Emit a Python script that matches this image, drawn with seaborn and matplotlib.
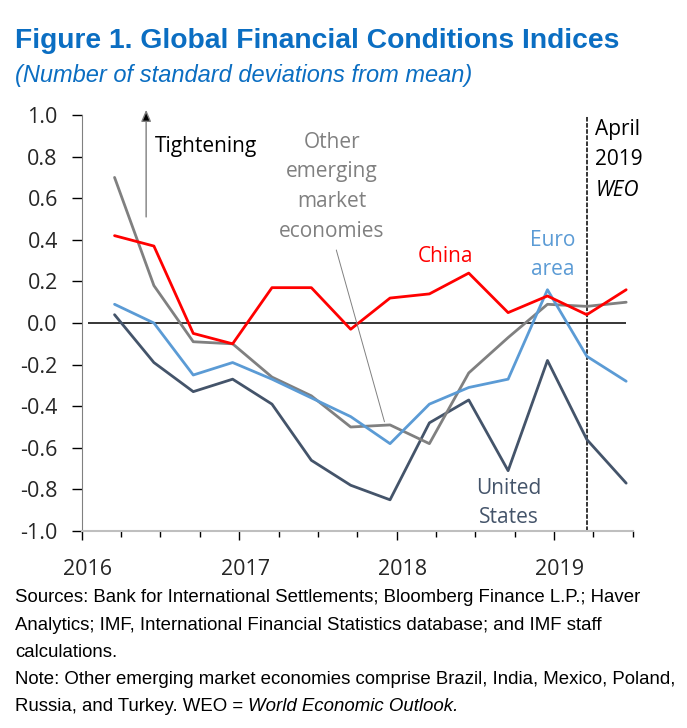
import matplotlib
matplotlib.use("Agg")
import matplotlib.pyplot as plt # type: ignore
import matplotlib.transforms as mtransforms # type: ignore
from matplotlib import font_manager # type: ignore
from matplotlib.ticker import FixedLocator # type: ignore
import seaborn as sns # type: ignore
import pandas as pd # type: ignore

quarters = ["2016Q1", "2016Q2", "2016Q3", "2016Q4", "2017Q1", "2017Q2", "2017Q3",
            "2017Q4", "2018Q1", "2018Q2", "2018Q3", "2018Q4", "2019Q1", "2019Q2"]
china = [0.42, 0.37, -0.05, -0.10, 0.17, 0.17, -0.03, 0.12, 0.14, 0.24, 0.05, 0.13, 0.04, 0.16]
other_em = [0.70, 0.18, -0.09, -0.10, -0.26, -0.35, -0.50, -0.49, -0.58, -0.24, -0.07, 0.09, 0.08, 0.10]
euro_area = [0.09, 0.00, -0.25, -0.19, -0.27, -0.36, -0.45, -0.58, -0.39, -0.31, -0.27, 0.16, -0.16, -0.28]
united_states = [0.04, -0.19, -0.33, -0.27, -0.39, -0.66, -0.78, -0.85, -0.48, -0.37, -0.71, -0.18, -0.56, -0.77]
year_labels = ["2016", "2017", "2018", "2019"]

# quarter -> position of the last month of the quarter (month centre, in years)
pos = [int(q[:4]) + (3 * int(q[-1]) - 0.5) / 12 for q in quarters]
df = pd.DataFrame({"date": pos, "China": china, "Other EM": other_em,
                   "Euro area": euro_area, "United States": united_states})

sns.set_style("ticks")
names = {f.name for f in font_manager.fontManager.ttflist}
narrow = "Liberation Sans Narrow" if "Liberation Sans Narrow" in names else "Liberation Sans"
body = ["Open Sans", "DejaVu Sans"]
plt.rcParams["font.family"] = body

fig = plt.figure(figsize=(6.87, 7.28), dpi=100)
ax = fig.add_axes([0.119, 0.2706, 0.802, 0.5714])

colors = {"United States": "#44546A", "Other EM": "#808080",
          "Euro area": "#5B9BD5", "China": "#FF0000"}
for col in ["United States", "Other EM", "Euro area", "China"]:
    sns.lineplot(data=df, x="date", y=col, color=colors[col], lw=2.0, ax=ax)

ax.hlines(0, 2016.04, pos[-1], color="black", lw=1.1, zorder=1)
ax.vlines(pos[-2], -1.0, 0.995, color="black", lw=1.1, linestyles=(0, (3, 1)), zorder=1)

ax.set_xlim(2016, 2019.5)
ax.set_ylim(-1.0, 1.0)
ax.set_yticks([-1.0, -0.8, -0.6, -0.4, -0.2, 0.0, 0.2, 0.4, 0.6, 0.8, 1.0])
ax.set_yticklabels([f"{v:.1f}" for v in ax.get_yticks()])
ax.set_xticks([int(y) for y in year_labels])
ax.set_xticklabels(year_labels)
ax.xaxis.set_minor_locator(FixedLocator([2016 + 0.25 * i for i in range(15)]))
ax.set_xlabel("")
ax.set_ylabel("")
ax.tick_params(axis="y", length=7.2, width=1, color="black", pad=10, labelsize=15.5)
ax.tick_params(axis="x", which="major", length=6.5, width=1, color="black", pad=14, labelsize=15.5)
ax.tick_params(axis="x", which="minor", length=4.3, width=1, color="black")
for lab in ax.get_xticklabels():
    lab.set_transform(lab.get_transform() + mtransforms.ScaledTranslation(0.06, 0, fig.dpi_scale_trans))
sns.despine(ax=ax)
ax.spines["left"].set_color("#808080")
ax.spines["bottom"].set_color("#BFBFBF")
ax.spines["bottom"].set_linewidth(1.5)

# annotations
fs = 15
ax.annotate("", xy=(2016.409, 1.025), xytext=(2016.409, 0.51), annotation_clip=False,
            arrowprops=dict(arrowstyle="-|>,head_length=0.7,head_width=0.3",
                            ec="#7F7F7F", fc="black", lw=1.0, shrinkA=0, shrinkB=0))
ax.text(2016.466, 0.85, "Tightening", ha="left", va="center", fontsize=fs, color="black")
ax.text(2017.59, 0.655, "Other\nemerging\nmarket\neconomies", ha="center", va="center",
        fontsize=fs, color="#808080", linespacing=1.55)
ax.plot([2017.617, 2017.923], [0.351, -0.475], color="#808080", lw=0.7)
ax.text(2018.311, 0.32, "China", ha="center", va="center", fontsize=fs, color="#FF0000")
ax.text(2018.99, 0.327, "Euro\narea", ha="center", va="center", fontsize=fs,
        color="#5B9BD5", linespacing=1.55)
ax.text(2018.712, -0.865, "United\nStates", ha="center", va="center", fontsize=fs,
        color="#44546A", linespacing=1.55)
ax.text(2019.263, 0.93, "April", ha="left", va="center", fontsize=fs, color="black")
ax.text(2019.263, 0.785, "2019", ha="left", va="center", fontsize=fs, color="black")
ax.text(2019.263, 0.635, "WEO", ha="left", va="center", fontsize=fs, color="black", style="italic")

blue = "#0B6EC2"
fig.text(0.022, 0.944, "Figure 1. Global Financial Conditions Indices", family=narrow,
         fontsize=20.3, fontweight="bold", color=blue, ha="left", va="center")
fig.text(0.022, 0.896, "(Number of standard deviations from mean)", family=narrow,
         fontsize=17, style="italic", color=blue, ha="left", va="center")

notes = ["Sources: Bank for International Settlements; Bloomberg Finance L.P.; Haver",
         "Analytics; IMF, International Financial Statistics database; and IMF staff",
         "calculations.",
         "Note: Other emerging market economies comprise Brazil, India, Mexico, Poland,"]
nfs = 13.4
for i, line in enumerate(notes):
    fig.text(0.022, 1 - (598 + 27.2 * i) / 728, line, family=narrow, fontsize=nfs,
             color="black", ha="left", va="center")
last_y = 1 - (598 + 27.2 * 4) / 728
t = fig.text(0.022, last_y, "Russia, and Turkey. WEO = ", family=narrow, fontsize=nfs,
             color="black", ha="left", va="center")
fig.canvas.draw()
bb = t.get_window_extent()
fig.text(bb.x1 / fig.bbox.width, last_y, "World Economic Outlook.", family=narrow,
         fontsize=nfs, style="italic", color="black", ha="left", va="center")

fig.savefig("out.png", dpi=100)
